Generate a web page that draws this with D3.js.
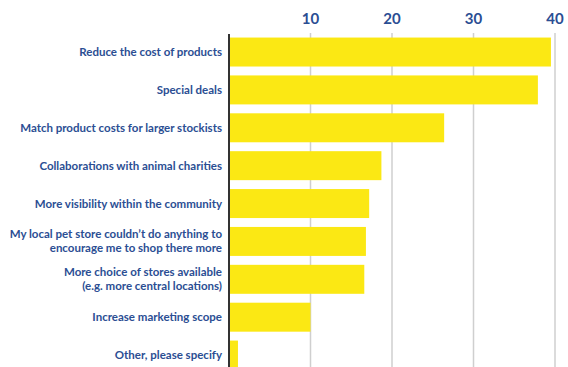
<!DOCTYPE html>
<html>
<head>
<meta charset="utf-8">
<script src="https://cdn.jsdelivr.net/npm/d3@7"></script>
<style>
	body { margin: 0; background: #fff; }
	svg { display: block; }
</style>
</head>
<body>
<div id="chart"></div>
<script>
const categories = [
	["Reduce the cost of products"],
	["Special deals"],
	["Match product costs for larger stockists"],
	["Collaborations with animal charities"],
	["More visibility within the community"],
	["My local pet store couldn\u2019t do anything to", "encourage me to shop there more"],
	["More choice of stores available", "(e.g. more central locations)"],
	["Increase marketing scope"],
	["Other, please specify"]
];
const values = [39.5, 37.9, 26.4, 18.7, 17.2, 16.8, 16.6, 10.0, 1.1];
const tickValues = [10, 20, 30, 40];

const width = 568;
const height = 367;
const blue = "#2b4e93";
const yellow = "#fbe814";

const svg = d3
	.select("#chart")
	.append("svg")
	.attr("width", width)
	.attr("height", height);

const x = d3.scaleLinear().domain([0, 40]).range([229, 555]);
const y = d3
	.scaleBand()
	.domain(d3.range(categories.length))
	.range([33, 33 + 37.9 * categories.length])
	.paddingInner(0.235)
	.paddingOuter(0.12);

// gridlines
svg.append("g")
	.selectAll("line")
	.data(tickValues)
	.enter()
	.append("line")
	.attr("x1", (d) => x(d))
	.attr("x2", (d) => x(d))
	.attr("y1", 33)
	.attr("y2", height)
	.attr("stroke", "#cfcfcf")
	.attr("stroke-width", 1.5);

// tick labels on top
svg.append("g")
	.selectAll("text")
	.data(tickValues)
	.enter()
	.append("text")
	.attr("x", (d) => x(d))
	.attr("y", 24)
	.attr("text-anchor", "middle")
	.attr("font-family", "Lato, sans-serif")
	.attr("font-weight", "bold")
	.attr("font-size", "15px")
	.attr("fill", blue)
	.text((d) => d);

// bars
svg.append("g")
	.selectAll("rect")
	.data(values)
	.enter()
	.append("rect")
	.attr("x", x(0))
	.attr("y", (_d, i) => y(i))
	.attr("width", (d) => x(d) - x(0))
	.attr("height", y.bandwidth())
	.attr("fill", yellow);

// axis line
svg.append("line")
	.attr("x1", x(0))
	.attr("x2", x(0))
	.attr("y1", 34)
	.attr("y2", height)
	.attr("stroke", "#333")
	.attr("stroke-width", 2);

// category labels
const labels = svg.append("g")
	.selectAll("text")
	.data(categories)
	.enter()
	.append("text")
	.attr("text-anchor", "end")
	.attr("font-family", "Lato, sans-serif")
	.attr("font-weight", "bold")
	.attr("font-size", "11.5px")
	.attr("fill", blue)
	.attr("transform", (d, i) => {
		const cy = y(i) + y.bandwidth() / 2;
		return `translate(222, ${cy - (d.length - 1) * 7 + 4})`;
	});
labels
	.selectAll("tspan")
	.data((d) => d)
	.enter()
	.append("tspan")
	.attr("x", 0)
	.attr("dy", (_d, j) => (j === 0 ? 0 : 14))
	.text((d) => d);
</script>
</body>
</html>
